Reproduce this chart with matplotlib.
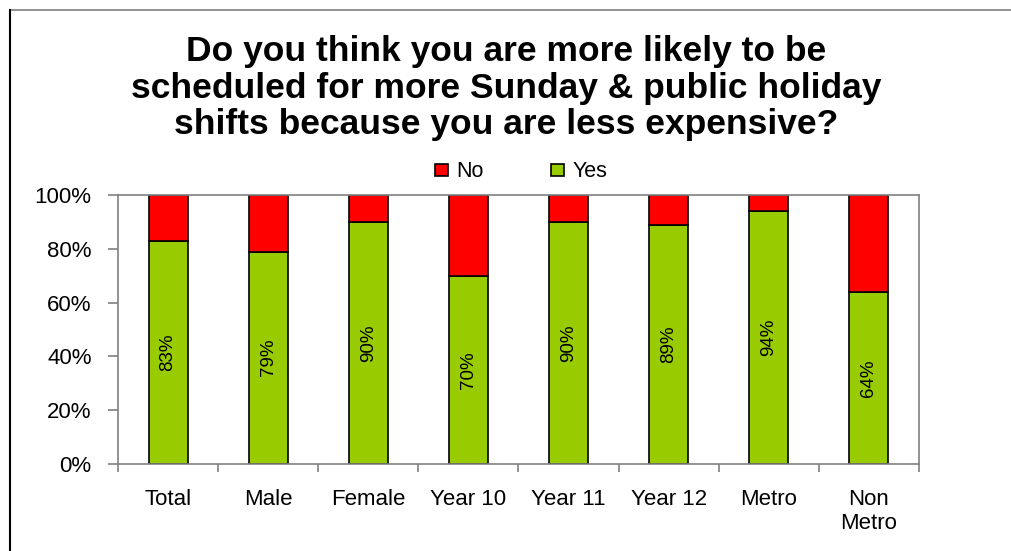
import matplotlib.pyplot as plt
import numpy as np
from matplotlib.lines import Line2D
from matplotlib.ticker import FixedLocator, PercentFormatter

plt.rcParams['font.family'] = ['Liberation Sans', 'DejaVu Sans']

categories = ['Total', 'Male', 'Female', 'Year 10', 'Year 11', 'Year 12', 'Metro', 'Non\nMetro']
yes_vals = [83, 79, 90, 70, 90, 89, 94, 64]
no_vals = [100 - v for v in yes_vals]

fig = plt.figure(figsize=(10.12, 5.51), dpi=100)
ax = fig.add_axes([0.1166, 0.158, 0.7915, 0.488])

x = np.arange(len(categories))
w = 0.39
ax.bar(x, yes_vals, w, color='#99CC00', edgecolor='black', linewidth=1.2, label='Yes')
ax.bar(x, no_vals, w, bottom=yes_vals, color='#FF0000', edgecolor='black', linewidth=1.2, label='No')

for xi, v in zip(x, yes_vals):
    ax.text(xi, v / 2, f'{v}%', rotation=90, ha='center', va='center', fontsize=13.5)

ax.set_xlim(-0.5, len(categories) - 0.5)
ax.set_ylim(0, 100)
ax.set_yticks(np.arange(0, 101, 20))
ax.yaxis.set_major_formatter(PercentFormatter(decimals=0))
ax.set_xticks(x)
ax.set_xticklabels(categories, fontsize=16, linespacing=1.2)
ax.xaxis.set_minor_locator(FixedLocator(np.arange(-0.5, len(categories), 1)))
ax.tick_params(axis='x', which='major', length=0, pad=18)
ax.tick_params(axis='x', which='minor', length=6, direction='out', color='#808080', width=1.2)
ax.tick_params(axis='y', labelsize=16, length=7, direction='out', color='#808080', width=1.2, pad=12)
for s in ax.spines.values():
    s.set_color('#808080')
    s.set_linewidth(1.2)

handles, labels = ax.get_legend_handles_labels()
fig.legend(handles[::-1], labels[::-1], loc='center', bbox_to_anchor=(0.515, 0.688), ncol=2,
           frameon=False, fontsize=15.5, handlelength=0.6, handleheight=0.5,
           handletextpad=0.4, columnspacing=3.1)

fig.text(0.5, 0.84, 'Do you think you are more likely to be\nscheduled for more Sunday & public holiday\nshifts because you are less expensive?',
         ha='center', va='center', fontsize=25.5, fontweight='bold', linespacing=1.14)

fig.add_artist(Line2D([0.01, 1.0], [0.982, 0.982], color='#808080', linewidth=1.2, transform=fig.transFigure))
fig.add_artist(Line2D([0.01, 0.01], [0.0, 0.982], color='black', linewidth=1.5, transform=fig.transFigure))

fig.savefig('out.png', dpi=100)
